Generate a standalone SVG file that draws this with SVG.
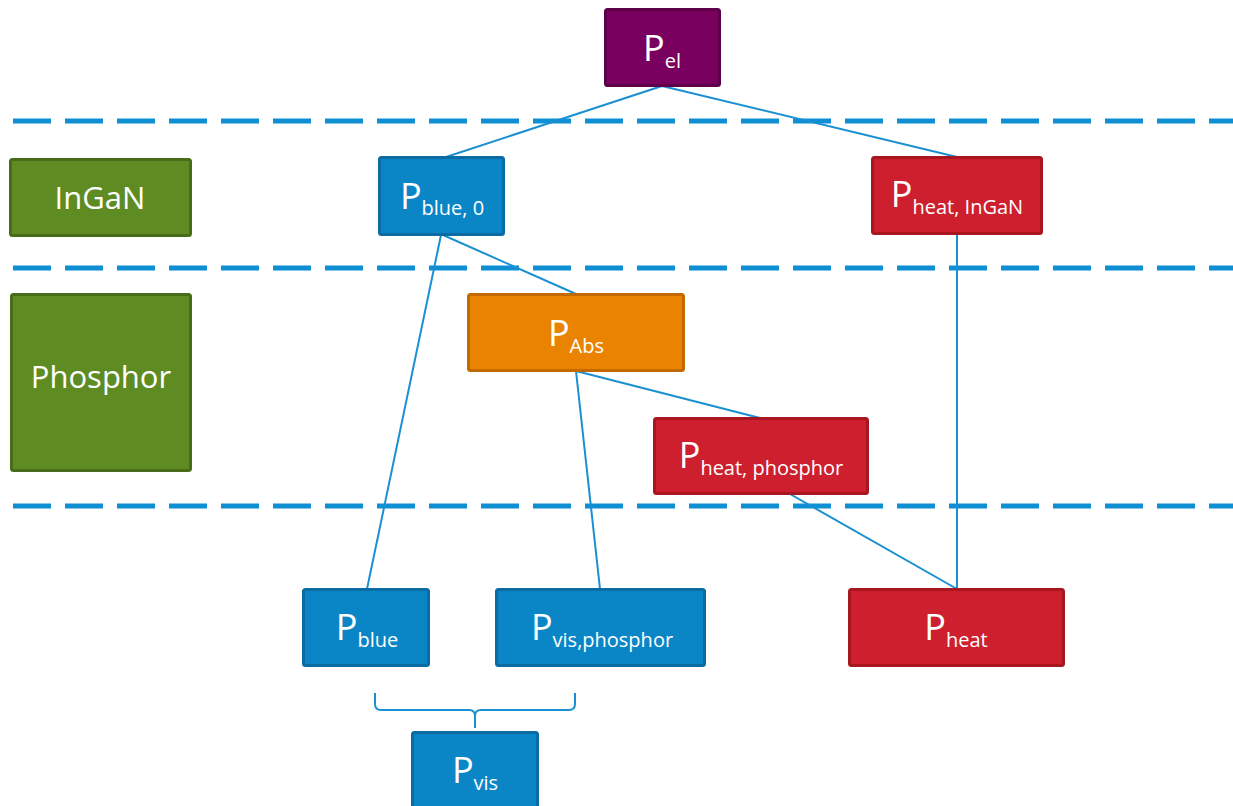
<svg xmlns="http://www.w3.org/2000/svg" width="1233" height="806" viewBox="0 0 1233 806">
<style>
.bg{fill:#ffffff}
.sep{stroke:#0e8fd3;stroke-width:5;stroke-dasharray:38 14;fill:none}
.con{stroke:#1a90d2;stroke-width:2;fill:none}
.box{stroke-width:3}
.purple{fill:#79005f;stroke:#5e0049}
.blue{fill:#0a86c6;stroke:#0b6ba3}
.red{fill:#cd1f2e;stroke:#a8161f}
.orange{fill:#e98300;stroke:#c26a00}
.green{fill:#5e8c22;stroke:#486c19}
.t{font-family:"Open Sans","Noto Sans",sans-serif;fill:#ffffff;text-anchor:middle}
.big{font-size:36px}
.sub{font-size:20px}
.lbl{font-size:31px}
</style>
<rect class="bg" x="0" y="0" width="1233" height="806"/>
<g id="separators">
<line class="sep" x1="13" y1="121" x2="1233" y2="121"/>
<line class="sep" x1="13" y1="268" x2="1233" y2="268"/>
<line class="sep" x1="13" y1="506" x2="1233" y2="506"/>
</g>
<g id="connectors">
<line class="con" x1="662" y1="86" x2="446" y2="157"/>
<line class="con" x1="662" y1="86" x2="957" y2="157"/>
<line class="con" x1="443" y1="235" x2="576" y2="294"/>
<line class="con" x1="441" y1="235" x2="367" y2="589"/>
<line class="con" x1="576" y1="371" x2="760" y2="418"/>
<line class="con" x1="576" y1="371" x2="600" y2="589"/>
<line class="con" x1="957" y1="234" x2="957" y2="589"/>
<line class="con" x1="790" y1="494" x2="957" y2="589"/>
<path class="con" d="M375,693 V704 Q375,710 381,710 H469 Q475,710 475,716 V728 M475,716 Q475,710 481,710 H569 Q575,710 575,704 V693"/>
</g>
<g id="n-ingan">
<rect class="box green" x="10.5" y="159.5" width="180" height="76" rx="2"/>
<text class="t lbl" x="100" y="209">InGaN</text>
</g>
<g id="n-phosphor">
<rect class="box green" x="11.5" y="294.5" width="179" height="176" rx="2"/>
<text class="t lbl" x="101" y="388">Phosphor</text>
</g>
<g id="n-pel">
<rect class="box purple" x="605.5" y="9.5" width="114" height="76" rx="2"/>
<text class="t" x="662" y="61"><tspan class="big">P</tspan><tspan class="sub" dy="7">el</tspan></text>
</g>
<g id="n-pblue0">
<rect class="box blue" x="379.5" y="157.5" width="124" height="77" rx="2"/>
<text class="t" x="442" y="209"><tspan class="big">P</tspan><tspan class="sub" dy="6">blue, 0</tspan></text>
</g>
<g id="n-pheat-ingan">
<rect class="box red" x="872.5" y="157.5" width="169" height="76" rx="2"/>
<text class="t" x="957" y="207"><tspan class="big">P</tspan><tspan class="sub" dy="7">heat, InGaN</tspan></text>
</g>
<g id="n-pabs">
<rect class="box orange" x="468.5" y="294.5" width="215" height="76" rx="2"/>
<text class="t" x="576" y="346"><tspan class="big">P</tspan><tspan class="sub" dy="7">Abs</tspan></text>
</g>
<g id="n-pheat-phosphor">
<rect class="box red" x="654.5" y="418.5" width="213" height="75" rx="2"/>
<text class="t" x="761" y="468"><tspan class="big">P</tspan><tspan class="sub" dy="7">heat, phosphor</tspan></text>
</g>
<g id="n-pblue">
<rect class="box blue" x="303.5" y="589.5" width="125" height="76" rx="2"/>
<text class="t" x="367" y="640"><tspan class="big">P</tspan><tspan class="sub" dy="7">blue</tspan></text>
</g>
<g id="n-pvis-phosphor">
<rect class="box blue" x="496.5" y="589.5" width="208" height="76" rx="2"/>
<text class="t" x="602" y="640"><tspan class="big">P</tspan><tspan class="sub" dy="7">vis,phosphor</tspan></text>
</g>
<g id="n-pheat">
<rect class="box red" x="849.5" y="589.5" width="214" height="76" rx="2"/>
<text class="t" x="956" y="640"><tspan class="big">P</tspan><tspan class="sub" dy="7">heat</tspan></text>
</g>
<g id="n-pvis">
<rect class="box blue" x="412.5" y="732.5" width="125" height="80" rx="2"/>
<text class="t" x="475" y="783"><tspan class="big">P</tspan><tspan class="sub" dy="7">vis</tspan></text>
</g>
</svg>
